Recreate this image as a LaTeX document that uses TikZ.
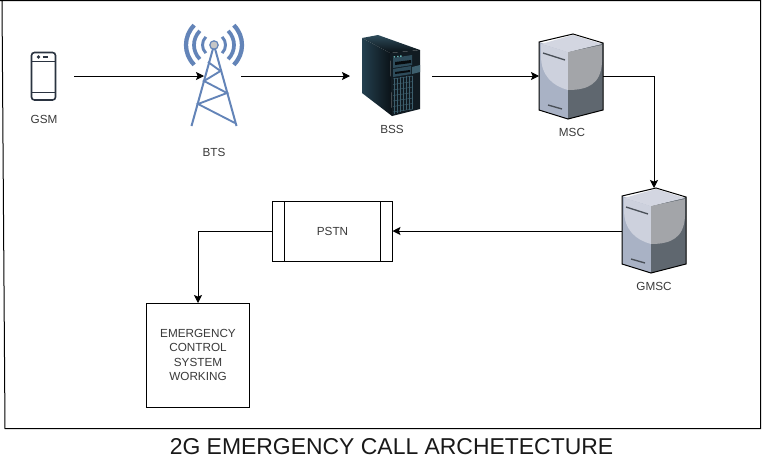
\documentclass[tikz,border=0pt]{standalone}
\usepackage{fontspec}
\setmainfont{Liberation Sans}
\usetikzlibrary{arrows.meta}
\definecolor{labelc}{HTML}{3A3A3A}
\definecolor{towerblue}{HTML}{6384B8}
\definecolor{phonec}{HTML}{2A3340}
\definecolor{srvlow}{HTML}{A9B2C5}
\definecolor{srvdark}{HTML}{5F676F}
\definecolor{srvlight}{HTML}{CDD1DD}
\definecolor{srvmid}{HTML}{A3A5A9}
\definecolor{srvtop}{HTML}{D3D6E1}
\definecolor{srvline}{HTML}{4A5058}
\definecolor{bssa}{HTML}{24404F}
\definecolor{bssb}{HTML}{0A1116}
\definecolor{bssc}{HTML}{111B22}
\definecolor{bssd}{HTML}{2E4C5B}
\definecolor{bsse}{HTML}{3D5F6E}
\definecolor{bssf}{HTML}{070B0E}
\tikzset{
  lbl/.style={font=\fontsize{8.8pt}{10pt}\selectfont,text=labelc,inner sep=0pt},
  anchorbox/.style={inner sep=0pt,outer sep=0pt},
  box/.style={draw=black,line width=0.75pt,inner sep=0pt,outer sep=0pt,font=\fontsize{8.8pt}{10.7pt}\selectfont,text=labelc,align=center},
  conn/.style={draw=black,line width=0.75pt,-{Stealth[length=6pt,width=6pt,inset=1.2pt]}},
  servericon/.pic={
    \fill[fill=srvlow] (-34,8) -- (-5,18) -- (-5,85) -- (-34,76) -- cycle;
    \fill[fill=srvdark] (-5,18) -- (30,9) -- (30,76) -- (-5,85) -- cycle;
    \fill[fill=srvlight] (-32,10) -- (-5,18) -- (-5,56) .. controls (-20,52) and (-32,42) .. (-32,22) -- cycle;
    \fill[fill=srvmid] (-5,18) -- (29,11) -- (29,28) .. controls (28,50) and (15,56) .. (-5,56) -- cycle;
    \fill[fill=srvtop] (0,1) -- (29,10) -- (-5,18) -- (-32,10) -- cycle;
    \draw[line width=0.75pt,line join=miter,draw=black] (-34,8) -- (0,0) -- (30,9) -- (30,76) -- (-5,85) -- (-34,76) -- cycle;
    \draw[line width=1pt,draw=srvline] (-30,19) -- (-8,26);
    \draw[line width=1pt,draw=srvline] (-25,71) -- (-11,75);
  }
}
\begin{document}
\begin{tikzpicture}[x=0.75pt,y=-0.75pt]
\useasboundingbox (0,0) rectangle (763,461);
\fill[white] (0,0) rectangle (763,461);
% frame
\draw[line width=0.75pt,black] (0,0.7) -- (760.5,0.7) -- (760.5,428.5) -- (5,428.5) -- (2,0.7);

% phone
\node[anchorbox,minimum width=61*0.75pt,minimum height=48*0.75pt] (gsm) at (43.5,76) {};
\draw[phonec,line width=1.2pt,rounded corners=2.2pt] (31.5,52.5) rectangle (55.5,100);
\draw[phonec,line width=1pt] (31.5,61.5) -- (55.5,61.5) (31.5,92.5) -- (55.5,92.5);
\draw[phonec,line width=0.7pt] (38.5,57) circle (1.1);
\draw[phonec,line width=1pt] (42.5,57) -- (48,57);
\node[lbl] (gsmlabel) at (44,119) {GSM};

% tower
\node[anchorbox,minimum width=37*0.75pt,minimum height=60*0.75pt] (bts) at (222.5,76) {};
\begin{scope}[towerblue,line width=1.5pt]
\draw (214,45) -- (191.5,126) (214,45) -- (236.5,126);
\draw[line width=1.4pt] (208,62) -- (220.5,71) -- (204,81) -- (227,93) -- (198,104) -- (235,123);
\foreach \r/\w in {28/3.2pt,20/2.8pt,11.5/2.2pt}{
  \draw[line width=\w] ({214-\r*0.707},{45-\r*0.707}) arc[start angle=135,end angle=225,radius=\r*0.75pt];
  \draw[line width=\w] ({214+\r*0.707},{45-\r*0.707}) arc[start angle=45,end angle=-45,radius=\r*0.75pt];
}
\end{scope}
\fill[fill=gray!45,draw=towerblue,line width=0.9pt] (214,45) circle (4.2);
\node[lbl] (btslabel) at (214,152) {BTS};

% BSS tower
\node[anchorbox,minimum width=82*0.75pt,minimum height=60*0.75pt] (bss) at (391,76) {};
\shade[left color=bssa,right color=bssb] (362,38) -- (390,53) -- (392,116) -- (362,93) -- cycle;
\shade[top color=bssd,bottom color=bssb] (362,38) -- (378,35) -- (420,50) -- (390,53) -- cycle;
\fill[fill=bssc] (390,53) -- (420,50) -- (420,109) -- (392,116) -- cycle;
\fill[fill=bssd] (393,58) -- (412,55) -- (412,65) -- (393,68) -- cycle;
\fill[fill=bssf] (395,62) -- (411,60) -- (411,63) -- (395,65) -- cycle;
\fill[fill=bssd] (393,69) -- (411,66) -- (411,74) -- (393,77) -- cycle;
\fill[fill=bssf] (395,72) -- (410,70) -- (410,72) -- (395,74) -- cycle;
\fill[fill=teal!60!white] (393.5,56) rectangle (395,57.5) (397,55.8) rectangle (398.5,57.2) (400,55.4) rectangle (401.5,56.8);
\fill[fill=bsse] (412,67) -- (420,65) -- (420,72) -- (412,74) -- cycle;
\foreach \i in {0,1,2,3,4,5,6}{
  \draw[bsse,line width=0.35pt] (393,{79+\i*5.5}) -- (413,{76+\i*5.5});
  \draw[bsse,line width=0.35pt] ({394+\i*3},{78-\i*0.4}) -- ({394+\i*3},{114-\i*0.9});
}
\node[lbl] (bsslabel) at (392,129) {BSS};

% MSC
\node[anchorbox,minimum width=64*0.75pt,minimum height=60*0.75pt] (msc) at (571,76) {};
\pic at (573,34) {servericon};
\node[lbl] (msclabel) at (572,132) {MSC};

% GMSC
\node[anchorbox,minimum width=64*0.75pt,minimum height=85*0.75pt] (gmsc) at (654,231) {};
\coordinate (gmsctop) at (654,188);
\pic at (656,188) {servericon};
\node[lbl] (gmsclabel) at (654,286) {GMSC};

% PSTN
\node[box,minimum width=120*0.75pt,minimum height=60*0.75pt] (pstn) at (332.5,231) {PSTN};
\draw[line width=0.75pt] (284.5,201) -- (284.5,261) (380,201) -- (380,261);

% Emergency
\node[box,minimum width=103*0.75pt,minimum height=104*0.75pt] (ecs) at (198,355) {EMERGENCY\\CONTROL\\SYSTEM\\WORKING};

% connectors
\draw[conn] (gsm.east) -- (bts.west);
\draw[conn] (bts.east) -- (bss.west);
\draw[conn] (bss.east) -- (msc.west);
\draw[conn] (msc.east) -| (gmsctop);
\draw[conn] (gmsc.west) -- (pstn.east);
\draw[conn] (pstn.west) -| (ecs.north);

% title
\node[inner sep=0pt,font=\fontsize{17.2pt}{20pt}\selectfont,text=black!90] (title) at (391.5,446.5) {2G EMERGENCY CALL ARCHETECTURE};
\end{tikzpicture}
\end{document}
